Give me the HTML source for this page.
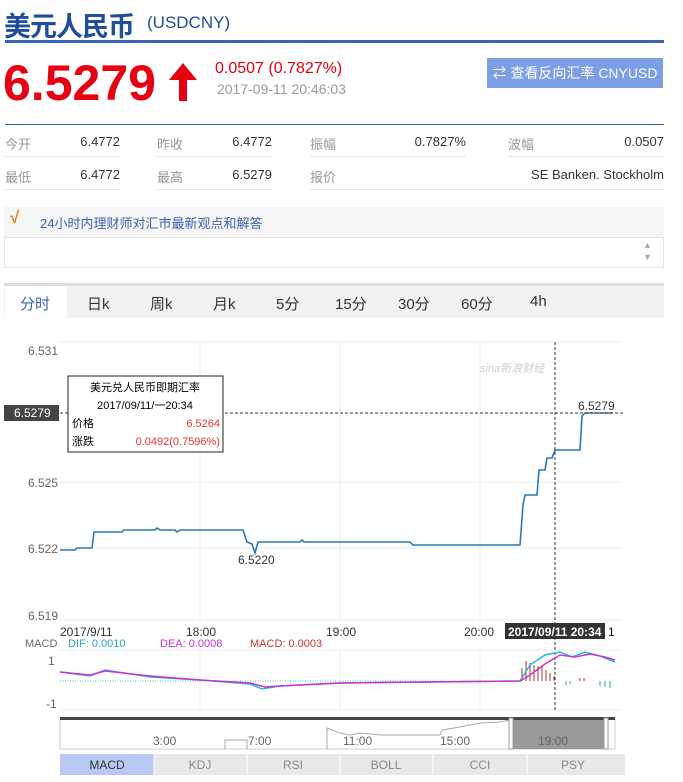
<!DOCTYPE html>
<html><head><meta charset="utf-8"><style>
*{margin:0;padding:0;box-sizing:border-box}
body{width:683px;height:782px;background:#fff;font-family:"Liberation Sans","Noto Sans CJK SC",sans-serif;position:relative;overflow:hidden;color:#333}
.a{position:absolute;white-space:nowrap}
.g{color:#999;font-size:13px}
.v{color:#333;font-size:13px;text-align:right}
</style></head><body>
<div class="a" style="left:4px;top:5px;font-size:27px;font-weight:bold;color:#1f4e9c;letter-spacing:-1px">美元人民币</div>
<div class="a" style="left:147px;top:13px;font-size:17px;color:#1f4e9c">(USDCNY)</div>
<div class="a" style="left:5px;top:40px;width:659px;height:3px;background:#3a62b5"></div>
<div class="a" style="left:3px;top:54px;font-size:50px;font-weight:bold;color:#e60012">6.5279</div>
<svg class="a" style="left:168px;top:63px" width="30" height="38"><polygon points="15,0 29,17 19,17 19,38 11,38 11,17 1,17" fill="#e60012"/></svg>
<div class="a" style="left:215px;top:60px;font-size:16px;color:#e60012">0.0507 (0.7827%)</div>
<div class="a" style="left:217px;top:81px;font-size:14px;color:#999">2017-09-11 20:46:03</div>
<div class="a" style="left:487px;top:58px;width:176px;height:30px;background:#7b9ee6;color:#fff;font-size:14px;line-height:30px;text-align:center">⇄ 查看反向汇率 CNYUSD</div>
<div class="a" style="left:5px;top:124px;width:659px;height:1px;background:#3a62b5"></div>
<div class="a g" style="left:5px;top:134px">今开</div><div class="a v" style="left:60px;top:134px;width:60px">6.4772</div>
<div class="a g" style="left:157px;top:134px">昨收</div><div class="a v" style="left:210px;top:134px;width:62px">6.4772</div>
<div class="a g" style="left:310px;top:134px">振幅</div><div class="a v" style="left:390px;top:134px;width:76px">0.7827%</div>
<div class="a g" style="left:508px;top:134px">波幅</div><div class="a v" style="left:600px;top:134px;width:64px">0.0507</div>
<div class="a g" style="left:5px;top:167px">最低</div><div class="a v" style="left:60px;top:167px;width:60px">6.4772</div>
<div class="a g" style="left:157px;top:167px">最高</div><div class="a v" style="left:210px;top:167px;width:62px">6.5279</div>
<div class="a g" style="left:310px;top:167px">报价</div><div class="a v" style="left:480px;top:167px;width:184px">SE Banken. Stockholm</div>
<div class="a" style="left:5px;top:156px;width:116px;height:1px;background:#e5e5e5"></div>
<div class="a" style="left:157px;top:156px;width:116px;height:1px;background:#e5e5e5"></div>
<div class="a" style="left:310px;top:156px;width:156px;height:1px;background:#e5e5e5"></div>
<div class="a" style="left:508px;top:156px;width:156px;height:1px;background:#e5e5e5"></div>
<div class="a" style="left:5px;top:189px;width:116px;height:1px;background:#e5e5e5"></div>
<div class="a" style="left:157px;top:189px;width:116px;height:1px;background:#e5e5e5"></div>
<div class="a" style="left:310px;top:189px;width:354px;height:1px;background:#e5e5e5"></div>
<div class="a" style="left:4px;top:207px;width:660px;height:30px;background:#f5f5f5"></div>
<div class="a" style="left:10px;top:208px;font-size:17px;color:#e67e22;font-weight:bold">√</div>
<div class="a" style="left:40px;top:213px;font-size:13px;color:#3a62b5">24小时内理财师对汇市最新观点和解答</div>
<div class="a" style="left:4px;top:237px;width:660px;height:31px;border:1px solid #e5e5e5;background:#fff"></div>
<div class="a" style="left:643px;top:240px;font-size:9px;color:#aab">▲</div>
<div class="a" style="left:643px;top:252px;font-size:9px;color:#aab">▼</div>
<div class="a" style="left:4px;top:283px;width:660px;height:35px;background:#f2f2f2;border-top:3px solid #ddd"></div>
<div class="a" style="left:5px;top:286px;width:62px;height:33px;background:#fff"></div>
<div class="a" style="left:20px;top:293px;font-size:15px;color:#3a62b5">分时</div>
<div class="a" style="left:87px;top:293px;font-size:15px">日k</div>
<div class="a" style="left:150px;top:293px;font-size:15px">周k</div>
<div class="a" style="left:213px;top:293px;font-size:15px">月k</div>
<div class="a" style="left:276px;top:293px;font-size:15px">5分</div>
<div class="a" style="left:335px;top:293px;font-size:15px">15分</div>
<div class="a" style="left:398px;top:293px;font-size:15px">30分</div>
<div class="a" style="left:461px;top:293px;font-size:15px">60分</div>
<div class="a" style="left:530px;top:293px;font-size:15px">4h</div>
<svg class="a" style="left:0;top:0" width="683" height="782" font-family="Liberation Sans,Noto Sans CJK SC,sans-serif">
<g stroke="#eee" stroke-width="1">
<line x1="60" y1="342" x2="620" y2="342"/><line x1="60" y1="482" x2="620" y2="482"/><line x1="60" y1="548" x2="620" y2="548"/><line x1="60" y1="620" x2="620" y2="620"/>
<line x1="200" y1="342" x2="200" y2="620"/><line x1="340" y1="342" x2="340" y2="620"/><line x1="480" y1="342" x2="480" y2="620"/>
<line x1="60" y1="650" x2="620" y2="650"/><line x1="60" y1="710" x2="620" y2="710"/>
<line x1="200" y1="650" x2="200" y2="710"/><line x1="340" y1="650" x2="340" y2="710"/><line x1="480" y1="650" x2="480" y2="710"/>
</g>
<g fill="#666" font-size="12">
<text x="28" y="355">6.531</text><text x="28" y="487">6.525</text><text x="28" y="553">6.522</text><text x="28" y="620">6.519</text>
<text x="60" y="636" fill="#333">2017/9/11</text><text x="186" y="636" fill="#333">18:00</text><text x="326" y="636" fill="#333">19:00</text><text x="464" y="636" fill="#333">20:00</text>
<text x="48" y="665">1</text><text x="46" y="708">-1</text>
</g>
<text x="480" y="372" font-size="11" fill="#ccc" font-style="italic">sina新浪财经</text>
<polyline fill="none" stroke="#2b7ab5" stroke-width="1.6" points="60,550 75,550 77,548 92,548 94,532 122,532 124,530 155,530 157,528 160,530 175,530 177,532 180,530 243,530 247,542 252,544 255,553 258,542 300,542 302,540 304,542 410,542 413,545 520,545 523,505 525,495 537,495 539,470 545,470 547,458 552,458 555,450 580,450 582,416 585,413 613,413"/>
<line x1="60" y1="413" x2="625" y2="413" stroke="#333" stroke-dasharray="3,2"/>
<line x1="555" y1="342" x2="555" y2="710" stroke="#333" stroke-dasharray="3,2"/>
<rect x="4" y="405" width="55" height="16" fill="#444"/>
<text x="14" y="417" font-size="12" fill="#fff">6.5279</text>
<text x="578" y="410" font-size="12" fill="#333">6.5279</text>
<text x="238" y="564" font-size="12" fill="#333">6.5220</text>
<rect x="68" y="376" width="155" height="76" fill="#fff" stroke="#222"/>
<g font-size="11"><text x="145" y="391" text-anchor="middle">美元兑人民币即期汇率</text>
<text x="145" y="409" text-anchor="middle">2017/09/11/一20:34</text>
<text x="72" y="427">价格</text><text x="220" y="427" text-anchor="end" fill="#e33">6.5264</text>
<text x="72" y="445">涨跌</text><text x="220" y="445" text-anchor="end" fill="#e33">0.0492(0.7596%)</text></g>
<rect x="505" y="623" width="100" height="16" fill="#333"/>
<text x="508" y="636" font-size="12" fill="#fff" font-weight="bold">2017/09/11 20:34</text><text x="608" y="636" font-size="12">1</text>
<g font-size="11"><text x="25" y="647" fill="#666">MACD</text><text x="68" y="647" fill="#2ab">DIF: 0.0010</text><text x="160" y="647" fill="#c3c">DEA: 0.0008</text><text x="250" y="647" fill="#c33">MACD: 0.0003</text></g>
<line x1="60" y1="681" x2="520" y2="681" stroke="#5bb" stroke-dasharray="1,1.5"/>
<g stroke="#a33"><line x1="522" y1="681" x2="522" y2="668"/><line x1="526" y1="681" x2="526" y2="661"/><line x1="530" y1="681" x2="530" y2="663"/><line x1="534" y1="681" x2="534" y2="665"/><line x1="538" y1="681" x2="538" y2="666"/><line x1="542" y1="681" x2="542" y2="667"/><line x1="546" y1="681" x2="546" y2="670"/><line x1="550" y1="681" x2="550" y2="673"/><line x1="554" y1="681" x2="554" y2="676"/><line x1="580" y1="681" x2="580" y2="678"/><line x1="584" y1="681" x2="584" y2="678"/></g>
<g stroke="#3a9"><line x1="566" y1="681" x2="566" y2="685"/><line x1="570" y1="681" x2="570" y2="684"/><line x1="600" y1="681" x2="600" y2="686"/><line x1="605" y1="681" x2="605" y2="687"/><line x1="610" y1="681" x2="610" y2="688"/></g>
<polyline fill="none" stroke="#2bd" stroke-width="1.5" points="60,672 90,676 105,670 150,677 200,680 250,684 262,689 280,686 340,683 520,681 530,665 545,655 560,652 572,657 585,652 600,656 615,662"/>
<polyline fill="none" stroke="#c3c" stroke-width="1.5" points="60,672 90,675 105,671 150,676 200,680 250,683 265,687 280,686 340,683 520,681 530,675 545,664 560,655 575,657 590,654 605,657 615,660"/>
<rect x="60" y="718" width="555" height="31" fill="#fff" stroke="#ccc"/>
<rect x="60" y="717" width="555" height="3" fill="#444"/>
<polyline fill="none" stroke="#aaa" points="225,749 225,740 247,740 247,749"/>
<polyline fill="none" stroke="#aaa" points="327,749 327,728 340,733 350,735 360,733 380,735 440,735 442,730 460,727 480,723 500,722 510,720"/>
<rect x="511" y="720" width="95" height="29" fill="#888" opacity="0.85"/>
<rect x="509" y="718" width="4" height="31" fill="#fff" stroke="#999"/><rect x="604" y="718" width="4" height="31" fill="#fff" stroke="#999"/>
<g font-size="12" fill="#666"><text x="153" y="745">3:00</text><text x="248" y="745">7:00</text><text x="343" y="745">11:00</text><text x="440" y="745">15:00</text><text x="538" y="745">19:00</text></g>
<rect x="60" y="754" width="565" height="21" fill="#e8e8e8"/>
<rect x="60" y="754" width="94" height="21" fill="#b9c9f5"/>
<g stroke="#fff"><line x1="154" y1="754" x2="154" y2="775"/><line x1="247" y1="754" x2="247" y2="775"/><line x1="340" y1="754" x2="340" y2="775"/><line x1="433" y1="754" x2="433" y2="775"/><line x1="527" y1="754" x2="527" y2="775"/></g>
<g font-size="12" fill="#888" text-anchor="middle"><text x="107" y="769" fill="#333">MACD</text><text x="200" y="769">KDJ</text><text x="293" y="769">RSI</text><text x="386" y="769">BOLL</text><text x="480" y="769">CCI</text><text x="573" y="769">PSY</text></g>
</svg>
</body></html>
